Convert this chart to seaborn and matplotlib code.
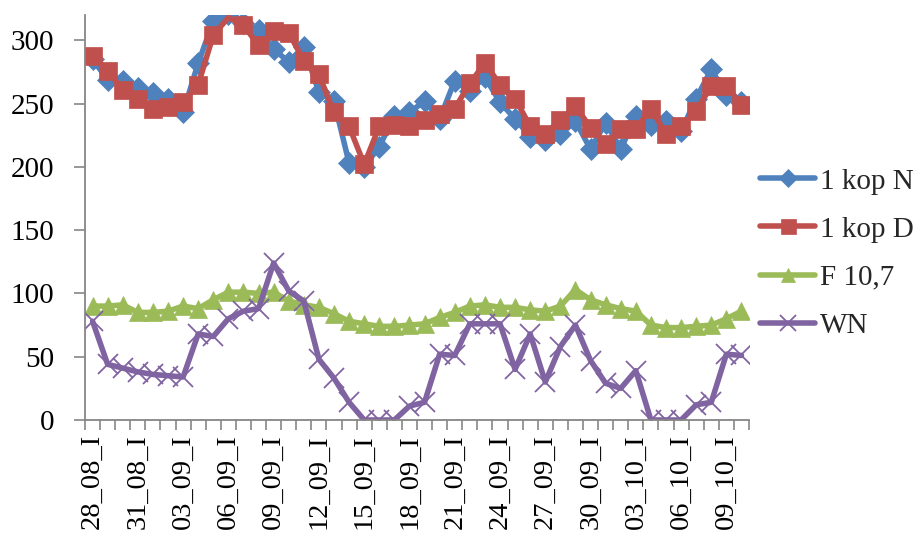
import numpy as np
import matplotlib
matplotlib.use("Agg")
import matplotlib.pyplot as plt
from matplotlib.lines import Line2D
import seaborn as sns

# Daily categories: 28 Aug .. 10 Oct
categories = ([f"{d:02d}_08_I" for d in range(28, 32)]
              + [f"{d:02d}_09_I" for d in range(1, 31)]
              + [f"{d:02d}_10_I" for d in range(1, 11)])

kop_n = [285, 269, 268, 262, 258, 254, 243, 282, 315, 321,
         314, 308, 293, 283, 295, 259, 252, 203, 200, 216,
         240, 243, 252, 238, 268, 260, 271, 251, 238, 224,
         221, 226, 236, 214, 235, 214, 240, 233, 236, 228,
         254, 277, 257, 251]

kop_d = [288, 276, 261, 254, 246, 247, 251, 265, 304, 318,
         312, 296, 307, 306, 284, 273, 243, 232, 202, 232,
         233, 232, 237, 242, 246, 266, 282, 265, 254, 232,
         226, 237, 248, 231, 218, 230, 230, 246, 226, 232,
         244, 264, 264, 249]

f107 = [90, 90, 91, 85, 85, 86, 90, 88, 95, 101,
        101, 100, 101, 94, 91, 89, 84, 78, 76, 74,
        74, 75, 76, 81, 85, 90, 91, 89, 89, 87,
        86, 90, 103, 95, 91, 88, 86, 75, 73, 73,
        74, 75, 80, 86]

wn = [78, 44, 41, 38, 36, 35, 34, 68, 66, 80,
      86, 88, 124, 102, 94, 48, 33, 14, 0, 0,
      0, 11, 14, 52, 51, 76, 76, 76, 40, 68,
      30, 58, 75, 47, 29, 25, 39, 0, 0, 0,
      12, 14, 52, 51]

series_names = ["1 kop N", "1 kop D", "F 10,7", "WN"]
series_values = [kop_n, kop_d, f107, wn]
colors = ["#4F81BD", "#C0504D", "#9BBB59", "#8064A2"]
markers = ["D", "s", "^", "x"]
marker_sizes = [11, 13.5, 13, 14]

sns.set_theme(style="white")
plt.rcParams["font.family"] = ["Liberation Serif", "DejaVu Serif"]

W, H = 915, 533
fig = plt.figure(figsize=(W / 100, H / 100), dpi=100)
ax = fig.add_axes([85 / W, 1 - 420 / H, (749 - 85) / W, (420 - 15) / H])

x = np.arange(len(categories))
# the 1 kop D point on 06_09 carries no marker
no_marker_idx = {9}

for name, vals, col, mk, ms in zip(series_names, series_values, colors,
                                   markers, marker_sizes):
    kw = dict(marker=mk, markersize=ms, markeredgecolor=col,
              markerfacecolor=col, markeredgewidth=1.3 if mk == "x" else 0.5)
    if name == "1 kop D":
        kw["markevery"] = [i for i in range(len(x)) if i not in no_marker_idx]
    sns.lineplot(x=x, y=vals, ax=ax, color=col, linewidth=4.0,
                 legend=False, sort=False, **kw)

ax.set_xlim(-0.5, len(categories) - 0.5)
ax.set_ylim(0, 320)
ax.set_yticks(np.arange(0, 301, 50))
ax.set_xticks(x[::3])
ax.set_xticklabels(categories[::3], rotation=90, fontsize=20.5)
ax.set_xticks(np.arange(-0.5, len(categories), 1), minor=True)
ax.tick_params(axis="x", which="major", length=0, pad=10, colors="black")
ax.tick_params(axis="x", which="minor", length=7, width=1.2,
               color="#868686", direction="out", bottom=True)
ax.tick_params(axis="y", which="major", length=8, width=1.2,
               color="#868686", direction="out", left=True, pad=14,
               labelsize=21, labelcolor="black")
ax.set_xlabel("")
ax.set_ylabel("")

for side in ["top", "right"]:
    ax.spines[side].set_visible(False)
for side in ["left", "bottom"]:
    ax.spines[side].set_color("#868686")
    ax.spines[side].set_linewidth(1.3)

handles = [Line2D([0], [0], color=c, linewidth=4.0, marker=m,
                  markersize=ms * 0.8, markerfacecolor=c, markeredgecolor=c,
                  markeredgewidth=1.3 if m == "x" else 0.5)
           for c, m, ms in zip(colors, markers, marker_sizes)]
fig.legend(handles, series_names, loc="center left",
           bbox_to_anchor=(760 / W, 1 - 253.5 / H), frameon=False,
           fontsize=21, handlelength=1.9, handletextpad=0.15,
           labelspacing=0.74, borderpad=0, borderaxespad=0, numpoints=1)

fig.savefig("out.png", dpi=100, facecolor="white")
